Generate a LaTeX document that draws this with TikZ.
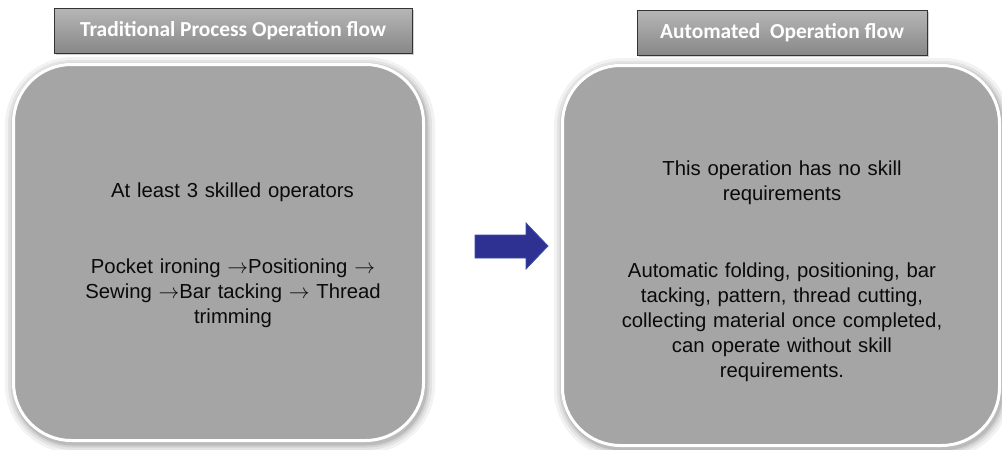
\documentclass[tikz,border=0pt]{standalone}
\usepackage{fontspec}
\setmainfont{Liberation Sans}[WordSpace=1.6]
\newfontfamily\titlefont{Carlito}
\definecolor{boxfill}{HTML}{A5A5A5}
\definecolor{titletop}{HTML}{B6B6B6}
\definecolor{titlebot}{HTML}{888888}
\definecolor{titleline}{HTML}{333333}
\definecolor{arrowfill}{HTML}{2E3192}
\definecolor{arrowline}{HTML}{3C4DA6}
\definecolor{textcol}{HTML}{0A0A0A}
\newcommand{\flowarrow}{\ensuremath{\rightarrow}}
\tikzset{
  bigbox/.style={rectangle, rounded corners=58pt, fill=boxfill, draw=white,
    line width=3pt, inner sep=0pt,
    preaction={draw=black, draw opacity=0.05, line width=20pt, transform canvas={shift={(1.5pt,-2.5pt)}}},
    preaction={draw=black, draw opacity=0.06, line width=14pt, transform canvas={shift={(1.5pt,-2.5pt)}}},
    preaction={draw=black, draw opacity=0.08, line width=9pt, transform canvas={shift={(1.5pt,-2.5pt)}}},
    preaction={draw=black, draw opacity=0.10, line width=5pt, transform canvas={shift={(1.5pt,-2.5pt)}}}},
  titlebox/.style={rectangle, top color=titletop, bottom color=titlebot,
    draw=titleline, line width=0.8pt, inner sep=0pt,
    font=\titlefont\bfseries\fontsize{21.4}{25}\selectfont, text=white,
    preaction={fill=black, fill opacity=0.18, transform canvas={shift={(2pt,-2pt)}}}},
  body/.style={align=center, inner sep=0pt, text=textcol, text width=390pt,
    font=\fontsize{20.3}{25}\selectfont},
  blockarrow/.style={fill=arrowfill, draw=arrowline, line width=0.8pt, line join=miter}
}
\begin{document}
\begin{tikzpicture}[x=1pt,y=-1pt]
\useasboundingbox[fill=white] (0,0) rectangle (1002,450);
% big rounded panels
\node[bigbox, minimum width=410pt, minimum height=376pt] (leftpanel) at (218.5,252.5) {};
\node[bigbox, minimum width=437pt, minimum height=380pt] (rightpanel) at (781,255.5) {};
% title boxes
\node[titlebox, minimum width=358pt, minimum height=45pt] (lefttitle) at (233,30.5) {Traditional Process Operation flow};
\node[titlebox, minimum width=290pt, minimum height=45pt] (righttitle) at (782,32.5) {Automated\ \ Operation flow};
% block arrow
\draw[blockarrow] (475,235) -- (526,235) -- (526,223) -- (548,246) -- (526,269) -- (526,258) -- (475,258) -- cycle;
% left texts
\node[body, anchor=base] (l1) at (232.5,197) {At least 3 skilled operators};
\node[body, anchor=base] (l2) at (233,273) {Pocket ironing \flowarrow Positioning \flowarrow\\Sewing \flowarrow Bar tacking \flowarrow{} Thread\\trimming};
% right texts
\node[body, anchor=base] (r1) at (782,175) {This operation has no skill\\requirements};
\node[body, anchor=base] (r2) at (782,277) {Automatic folding, positioning, bar\\tacking, pattern, thread cutting,\\collecting material once completed,\\can operate without skill\\requirements.};
\end{tikzpicture}
\end{document}
